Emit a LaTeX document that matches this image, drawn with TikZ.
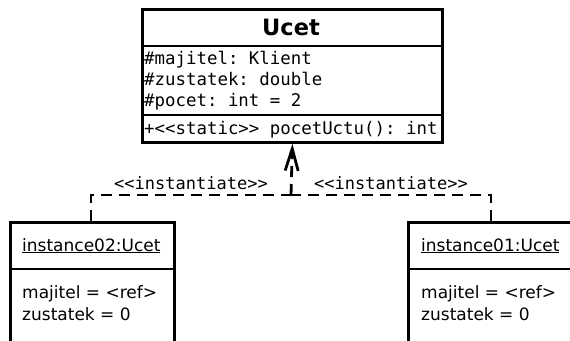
\documentclass[tikz,border=0pt]{standalone}
\usepackage{fontspec}
\setmainfont{DejaVu Sans}
\setmonofont{DejaVu Sans Mono}
\usetikzlibrary{arrows.meta}
\tikzset{
  box/.style={draw=black, line width=2.8pt, fill=white, inner sep=0pt, anchor=north west},
  divider/.style={line width=2.6pt},
  dep/.style={line width=2.8pt, dash pattern=on 11pt off 7pt},
  txt/.style={inner sep=0pt, anchor=base west, font=\fontsize{17}{20}\selectfont},
  mono/.style={inner sep=0pt, anchor=base west, font=\fontsize{17.4}{20}\ttfamily},
  lbl/.style={inner sep=0pt, anchor=base, font=\fontsize{17}{20}\ttfamily},
}
\begin{document}
\begin{tikzpicture}[x=1pt,y=-1pt]
\useasboundingbox (0,0) rectangle (570,340);
\clip (0,0) rectangle (570,340);
\fill[white] (0,0) rectangle (570,340);
% class Ucet
\node[box, minimum width=300pt, minimum height=133pt] (ucet) at (141,8) {};
\draw[divider] (141,46) -- (441,46);
\draw[divider] (141,115) -- (441,115);
\node[inner sep=0pt, anchor=base, font=\fontsize{22.5}{24}\selectfont\bfseries] (title) at (291,35) {Ucet};
\node[mono] (a1) at (144,64) {\#majitel: Klient};
\node[mono] (a2) at (144,85) {\#zustatek: double};
\node[mono] (a3) at (144,106) {\#pocet: int = 2};
\node[mono] (m1) at (144,134) {+<{}<static>{}> pocetUctu(): int};
% instances
\node[box, minimum width=164pt, minimum height=140pt] (inst2) at (9,221) {};
\draw[divider] (9,269) -- (173,269);
\node[txt] (n2) at (22,251) {\underline{instance02:Ucet}};
\node[txt] (n2a) at (22,298) {majitel = <ref>};
\node[txt] (n2b) at (22,320) {zustatek = 0};
\node[box, minimum width=164pt, minimum height=140pt] (inst1) at (407,221) {};
\draw[divider] (407,269) -- (571,269);
\node[txt] (n1) at (421,251) {\underline{instance01:Ucet}};
\node[txt] (n1a) at (421,298) {majitel = <ref>};
\node[txt] (n1b) at (421,320) {zustatek = 0};
% dependencies
\coordinate (j) at (291,195);
\draw[dep] (inst2.north -| 91,0) |- (j);
\draw[dep] (inst1.north -| 491,0) |- (j);
\draw[dep, -{Straight Barb[length=22pt,width=13pt,line width=2.8pt]}] (j) -- (ucet.south);
\node[lbl] (l1) at (191,189) {<{}<instantiate>{}>};
\node[lbl] (l2) at (391,189) {<{}<instantiate>{}>};
\end{tikzpicture}
\end{document}
